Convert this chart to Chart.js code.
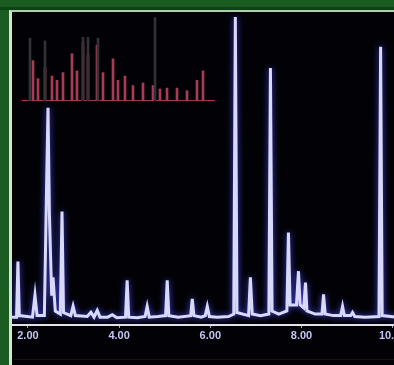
<!DOCTYPE html>
<html>
<head>
<meta charset="utf-8">
<script src="https://cdn.jsdelivr.net/npm/chart.js@4/dist/chart.umd.min.js"></script>
<style>
  html, body { margin: 0; padding: 0; width: 394px; height: 365px; overflow: hidden; background: #1b5c22; }
  #frame {
    position: absolute; left: 9px; top: 10px; width: 430px; height: 370px;
    background: #020206;
    border-left: 3px solid #cfe6cf; border-top: 2px solid #a9cfa9;
  }
  #topband { position: absolute; left: 0; top: 7px; width: 394px; height: 3px; background: #0f4214; }
  #main { position: absolute; left: 12px; top: 12px; width: 408px; height: 353px; }
  #inset { position: absolute; left: 22px; top: 15px; width: 193px; height: 86px; }
  #footline { position: absolute; left: 14px; top: 359px; width: 380px; height: 1px; background: #2c0a14; }
</style>
</head>
<body>
<div id="topband"></div>
<div id="frame"></div>
<div id="footline"></div>
<div id="main"><canvas id="trace"></canvas></div>
<div id="inset"><canvas id="spec"></canvas></div>
<script>
// Chromatogram trace: retention time (min) and detector response (% of full scale)
const traceTime = [
  1.65, 1.75, 1.78, 1.81,
  2.10, 2.154, 2.20,
  2.36, 2.41, 2.44, 2.47, 2.52, 2.55, 2.60,
  2.71, 2.747, 2.78,
  2.94, 2.99, 3.04,
  3.30, 3.38, 3.45, 3.52, 3.58,
  3.75, 3.85, 3.95,
  4.14, 4.176, 4.21,
  4.40, 4.57, 4.615, 4.66,
  4.85, 5.02, 5.055, 5.09,
  5.30, 5.57, 5.604, 5.64,
  5.80, 5.89, 5.934, 5.98,
  6.15, 6.40, 6.515, 6.549, 6.585,
  6.84, 6.879, 6.92,
  7.10, 7.285, 7.319, 7.355,
  7.50, 7.68, 7.714, 7.75, 7.89, 7.934, 7.97, 8.05, 8.088, 8.12,
  8.30, 8.45, 8.484, 8.52,
  8.70, 8.86, 8.901, 8.94, 9.08, 9.12, 9.17,
  9.40, 9.70, 9.736, 9.77,
  10.10, 10.60
];
const traceIntensity = [
  1.0, 1.0, 19.2, 1.5,
  1.0, 8.2, 1.5,
  1.5, 45.0, 69.4, 35.0, 8.0, 14.0, 3.0,
  2.0, 35.5, 2.5,
  1.5, 4.6, 1.5,
  1.2, 2.6, 1.0, 3.2, 1.0,
  1.0, 1.8, 0.8,
  1.0, 13.0, 1.0,
  0.8, 1.2, 4.5, 1.0,
  1.2, 1.5, 13.0, 1.5,
  1.0, 1.5, 7.0, 1.5,
  1.0, 1.5, 4.5, 1.2,
  1.0, 1.2, 2.0, 99.0, 2.5,
  1.5, 14.0, 2.0,
  1.5, 2.0, 82.4, 3.0,
  2.0, 3.0, 28.6, 5.0, 5.0, 16.0, 5.0, 4.0, 12.3, 3.0,
  2.0, 2.0, 8.4, 2.0,
  1.5, 1.5, 4.5, 1.5, 1.5, 2.5, 1.2,
  1.0, 1.2, 89.3, 1.5,
  1.0, 1.0
];
const tickValues = [2, 4, 6, 8, 10];
const tickLabels = ['2.00', '4.00', '6.00', '8.00', '10.00'];

// Inset mass spectrum: m/z and relative abundance (%)
const specMz = [43, 48, 55, 62, 67, 73, 82, 87, 93, 98, 107, 113, 123, 128, 135, 143, 153, 163, 170, 177, 187, 197, 207, 213];
const specAbund = [47, 26, 39, 29, 24, 33, 55, 35, 68, 53, 65, 33, 49, 24, 29, 18, 21, 18, 14, 15, 15, 12, 24, 35];
const refMz = [40, 55, 93, 98, 108, 165];
const refAbund = [73, 70, 74, 74, 73, 97];

const glow = {
  id: 'glow',
  beforeDatasetDraw(chart, args, opts) {
    const c = chart.ctx;
    c.save();
    c.shadowColor = opts.color;
    c.shadowBlur = opts.blur;
  },
  afterDatasetDraw(chart) { chart.ctx.restore(); }
};

new Chart(document.getElementById('trace'), {
  type: 'line',
  data: {
    datasets: [{
      data: traceTime.map((t, i) => ({ x: t, y: traceIntensity[i] })),
      borderColor: '#d8d8f8',
      borderWidth: 3,
      pointRadius: 0,
      tension: 0
    }]
  },
  options: {
    responsive: true,
    maintainAspectRatio: false,
    animation: false,
    layout: { padding: { top: 2, bottom: 20, left: 0, right: 0 } },
    plugins: {
      legend: { display: false },
      tooltip: { enabled: false },
      glow: { color: '#4444e0', blur: 6 }
    },
    scales: {
      x: {
        type: 'linear',
        min: 1.65,
        max: 10.6,
        afterBuildTicks: (s) => { s.ticks = tickValues.map(v => ({ value: v })); },
        ticks: {
          callback: (v, i) => tickLabels[i],
          color: '#c4c4f2',
          font: { family: 'Liberation Sans', size: 11, weight: 'bold' },
          padding: 2,
          maxRotation: 0,
          autoSkip: false
        },
        grid: { display: true, drawOnChartArea: false, drawTicks: true, tickLength: 3, color: '#b8b8e0' },
        border: { display: true, color: '#e2e2ea', width: 2 }
      },
      y: { display: false, min: -1.5, max: 100 }
    }
  },
  plugins: [glow]
});

new Chart(document.getElementById('spec'), {
  type: 'bar',
  data: {
    datasets: [
      {
        data: refMz.map((m, i) => ({ x: m, y: refAbund[i] })),
        backgroundColor: '#333336',
        barThickness: 2,
        grouped: false
      },
      {
        data: specMz.map((m, i) => ({ x: m, y: specAbund[i] })),
        backgroundColor: '#a83c56',
        barThickness: 2,
        grouped: false
      }
    ]
  },
  options: {
    responsive: true,
    maintainAspectRatio: false,
    animation: false,
    layout: { padding: 0 },
    plugins: { legend: { display: false }, tooltip: { enabled: false } },
    scales: {
      x: {
        type: 'linear',
        min: 32,
        max: 225,
        offset: false,
        ticks: { display: false },
        grid: { display: false, drawTicks: false },
        border: { display: true, color: '#a03650', width: 2 }
      },
      y: { display: false, min: 0, max: 100 }
    }
  }
});
</script>
</body>
</html>
